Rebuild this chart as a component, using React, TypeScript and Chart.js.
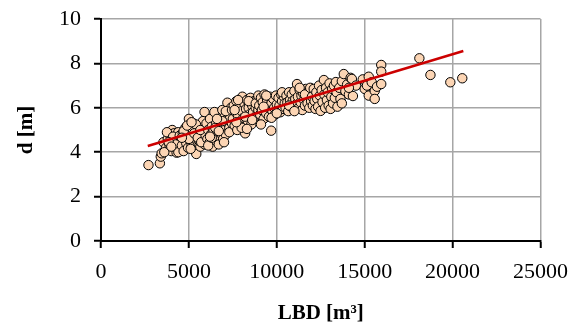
import React, { useEffect, useRef } from "react";
import { Chart, registerables } from "chart.js";

Chart.register(...registerables);

// LBD [m³] and d [m] readings (scatter)
const lbd: number[] = [
  2700, 3350, 3400, 3450, 3550, 3700, 3800, 3900, 3950, 4000, 4050, 4100, 4150, 4200, 4250, 4300, 4350, 4400, 4450, 4500,
  3600, 3750, 4100, 4250, 4400, 3850, 4000, 4480,
  4600, 4650, 4700, 4750, 4800, 4850, 4900, 4950, 5000, 5040, 5050, 5100, 5150, 5200, 5250, 5300, 5350, 5420, 5450, 5500,
  5550, 5600, 5650, 5700, 5750, 5800, 5850, 5890, 5900, 5950, 5000, 5200, 5400, 5600, 5800, 4700, 4900, 5100, 5300, 5500,
  5700, 5950, 4600, 5150, 5650,
  6000, 6050, 6100, 6150, 6200, 6250, 6300, 6350, 6400, 6450, 6500, 6550, 6600, 6650, 6700, 6750, 6800, 6850, 6900, 6950,
  7000, 7050, 7100, 7150, 7190, 7250, 7300, 7350, 7400, 7450, 6100, 6300, 6500, 6700, 6900, 7100, 7300, 7450, 6200, 6600, 7000,
  7500, 7550, 7600, 7650, 7700, 7750, 7800, 7850, 7900, 7950, 8000, 8040, 8100, 8150, 8200, 8250, 8300, 8350, 8400, 8450,
  8500, 8550, 8600, 8650, 8700, 8750, 8800, 8850, 8900, 8950, 7600, 7800, 8000, 8200, 8400, 8600, 8800, 8950, 7700, 8300,
  9000, 9050, 9100, 9150, 9200, 9250, 9300, 9350, 9400, 9450, 9500, 9550, 9600, 9680, 9700, 9750, 9800, 9850, 9900, 9950,
  10000, 10050, 10100, 10150, 10200, 10250, 10300, 10350, 10400, 10450, 9100, 9400, 9700, 10000, 10300, 9250,
  10500, 10550, 10600, 10650, 10700, 10750, 10800, 10850, 10900, 10950, 11000, 11050, 11100, 11150, 11200, 11250, 11300,
  11350, 11400, 11450, 11500, 11550, 11600, 11650, 11700, 11750, 11800, 11850, 11900, 11950, 10700, 11000, 11300, 11600, 11900,
  12000, 12050, 12100, 12150, 12200, 12250, 12300, 12350, 12400, 12450, 12490, 12550, 12600, 12680, 12700, 12750, 12800,
  12850, 12900, 12950, 13000, 13060, 13100, 13150, 13200, 13250, 13300, 13360, 13400, 13450,
  13550, 13620, 13700, 13810, 13900, 14000, 14100, 14200, 14270, 14330, 14500, 14890, 15000, 15130, 15230, 15230, 15400,
  15570, 15570, 15700, 15940, 15940, 15940, 13700, 14100,
  18110, 18740, 19870, 20550,
];
const depth: number[] = [
  3.42, 3.5, 3.8, 3.95, 4.45, 4.2, 4.6, 4.3, 4.75, 4.05, 5.0, 4.5, 4.85, 4.25, 4.65, 3.98, 4.4, 4.9, 4.15, 4.55,
  4.0, 4.9, 4.7, 4.35, 4.0, 4.45, 4.25, 4.75,
  4.3, 4.85, 4.05, 4.6, 5.1, 4.4, 4.7, 4.2, 5.5, 5.15, 4.55, 4.9, 4.3, 4.75, 5.3, 4.1, 4.6, 3.92, 4.95, 5.2,
  4.4, 4.8, 4.25, 5.1, 4.6, 5.4, 4.9, 5.81, 4.35, 5.05, 4.6, 5.05, 5.25, 4.5, 4.7, 4.95, 5.2, 4.15, 4.85, 4.65,
  4.45, 4.75, 4.65, 5.35, 5.0,
  5.3, 4.6, 5.0, 4.4, 5.5, 4.8, 5.15, 4.25, 4.95, 5.81, 4.55, 5.3, 4.7, 5.05, 4.35, 5.45, 4.85, 5.2, 5.9, 4.6,
  5.0, 5.6, 4.8, 5.35, 6.23, 5.75, 5.1, 5.55, 6.0, 5.3, 4.3, 4.65, 5.1, 4.95, 5.4, 5.85, 4.9, 5.9, 4.7, 5.5, 4.45,
  5.5, 6.1, 5.2, 5.8, 6.3, 5.0, 5.65, 6.05, 5.35, 6.4, 5.85, 6.5, 5.55, 6.2, 4.85, 5.95, 6.35, 5.4, 6.0, 5.7,
  6.45, 5.25, 6.1, 5.8, 6.3, 5.5, 6.0, 5.65, 6.4, 5.9, 5.9, 6.35, 5.1, 5.6, 6.3, 5.45, 6.2, 6.55, 5.35, 5.05,
  6.1, 5.7, 6.45, 5.9, 6.25, 5.5, 6.6, 6.0, 5.75, 6.35, 6.05, 5.6, 6.5, 4.97, 6.2, 5.85, 6.4, 6.0, 5.7, 6.55,
  6.15, 5.9, 6.45, 6.1, 5.8, 6.6, 6.3, 5.95, 6.5, 6.2, 5.25, 6.55, 5.55, 5.75, 6.7, 6.05,
  6.0, 6.55, 6.25, 5.85, 6.7, 6.35, 6.05, 6.6, 6.3, 5.95, 6.75, 6.4, 6.15, 7.07, 6.5, 6.0, 6.8,
  6.25, 6.55, 5.9, 6.65, 6.35, 6.1, 6.85, 6.45, 6.2, 6.7, 6.0, 6.55, 6.3, 6.1, 5.85, 6.9, 6.6, 6.9,
  6.5, 6.1, 6.85, 6.3, 5.95, 6.7, 6.4, 6.05, 7.0, 6.55, 5.86, 6.8, 6.25, 7.25, 6.6, 6.0, 6.9,
  6.35, 6.7, 6.1, 7.1, 5.95, 6.5, 6.85, 6.2, 7.0, 6.45, 7.16, 6.7, 6.05,
  6.9, 6.4, 7.2, 7.52, 6.75, 7.05, 6.6, 7.35, 7.3, 6.53, 7.0, 7.28, 6.85, 7.0, 7.4, 6.55, 7.15,
  6.76, 6.4, 6.95, 7.93, 7.63, 7.07, 6.2, 6.9,
  8.23, 7.48, 7.15, 7.33,
];

// Linear trend line end points
const trendX: number[] = [2660, 20610];
const trendY: number[] = [4.28, 8.56];

const xTicks: number[] = [0, 5000, 10000, 15000, 20000, 25000];
const yTicks: number[] = [0, 2, 4, 6, 8, 10];

const FONT = "'Liberation Serif', 'Times New Roman', serif";

export default function App() {
  const ref = useRef<HTMLCanvasElement | null>(null);

  useEffect(() => {
    document.body.style.margin = "0";
    const canvas = ref.current;
    if (!canvas) return;
    const pts = lbd.map((x, i) => ({ x, y: depth[i] }));
    const trend = trendX.map((x, i) => ({ x, y: trendY[i] }));
    const chart = new Chart(canvas, {
      type: "scatter",
      data: {
        datasets: [
          {
            type: "line" as any,
            label: "trend",
            data: trend,
            borderColor: "#CC0000",
            borderWidth: 2.5,
            pointRadius: 0,
            showLine: true,
            fill: false,
            order: 0,
          } as any,
          {
            label: "d",
            data: pts,
            backgroundColor: "#FCD5B4",
            borderColor: "#000000",
            borderWidth: 1,
            pointRadius: 4.7,
            order: 1,
          },
        ],
      },
      options: {
        animation: false,
        responsive: false,
        maintainAspectRatio: false,
        layout: { padding: { left: 0, top: 19, right: 37, bottom: 0 } },
        plugins: { legend: { display: false }, tooltip: { enabled: false } },
        scales: {
          x: {
            type: "linear",
            min: 0,
            max: 25000,
            afterBuildTicks: (s: any) => {
              s.ticks = xTicks.map((v) => ({ value: v }));
            },
            afterFit: (s: any) => {
              s.height = 85;
            },
            ticks: {
              color: "#000",
              font: { family: FONT, size: 22 },
              padding: 11,
              maxRotation: 0,
              callback: (v: any) => String(v),
            },
            grid: { color: "#A6A6A6", lineWidth: 1.5, tickColor: "#000", tickLength: 7, tickWidth: 2 },
            border: { color: "#000", width: 2 },
            title: {
              display: true,
              text: "LBD [m³]",
              color: "#000",
              font: { family: FONT, size: 21, weight: "bold" },
              padding: { top: 4, bottom: 0 },
            },
          },
          y: {
            type: "linear",
            min: 0,
            max: 10,
            afterBuildTicks: (s: any) => {
              s.ticks = yTicks.map((v) => ({ value: v }));
            },
            afterFit: (s: any) => {
              s.width = 101;
              s.paddingTop = 10;
              s.paddingBottom = 10;
            },
            ticks: {
              color: "#000",
              font: { family: FONT, size: 22 },
              padding: 13,
              callback: (v: any) => String(v),
            },
            grid: { color: "#A6A6A6", lineWidth: 1.5, tickColor: "#000", tickLength: 7, tickWidth: 2 },
            border: { color: "#000", width: 2 },
            title: {
              display: true,
              text: "d [m]",
              color: "#000",
              font: { family: FONT, size: 21, weight: "bold" },
              padding: { top: 14, bottom: 0 },
            },
          },
        },
      },
    });
    return () => chart.destroy();
  }, []);

  return (
    <div style={{ width: 579, height: 326 }}>
      <canvas ref={ref} width={579} height={326} style={{ display: "block" }} />
    </div>
  );
}
